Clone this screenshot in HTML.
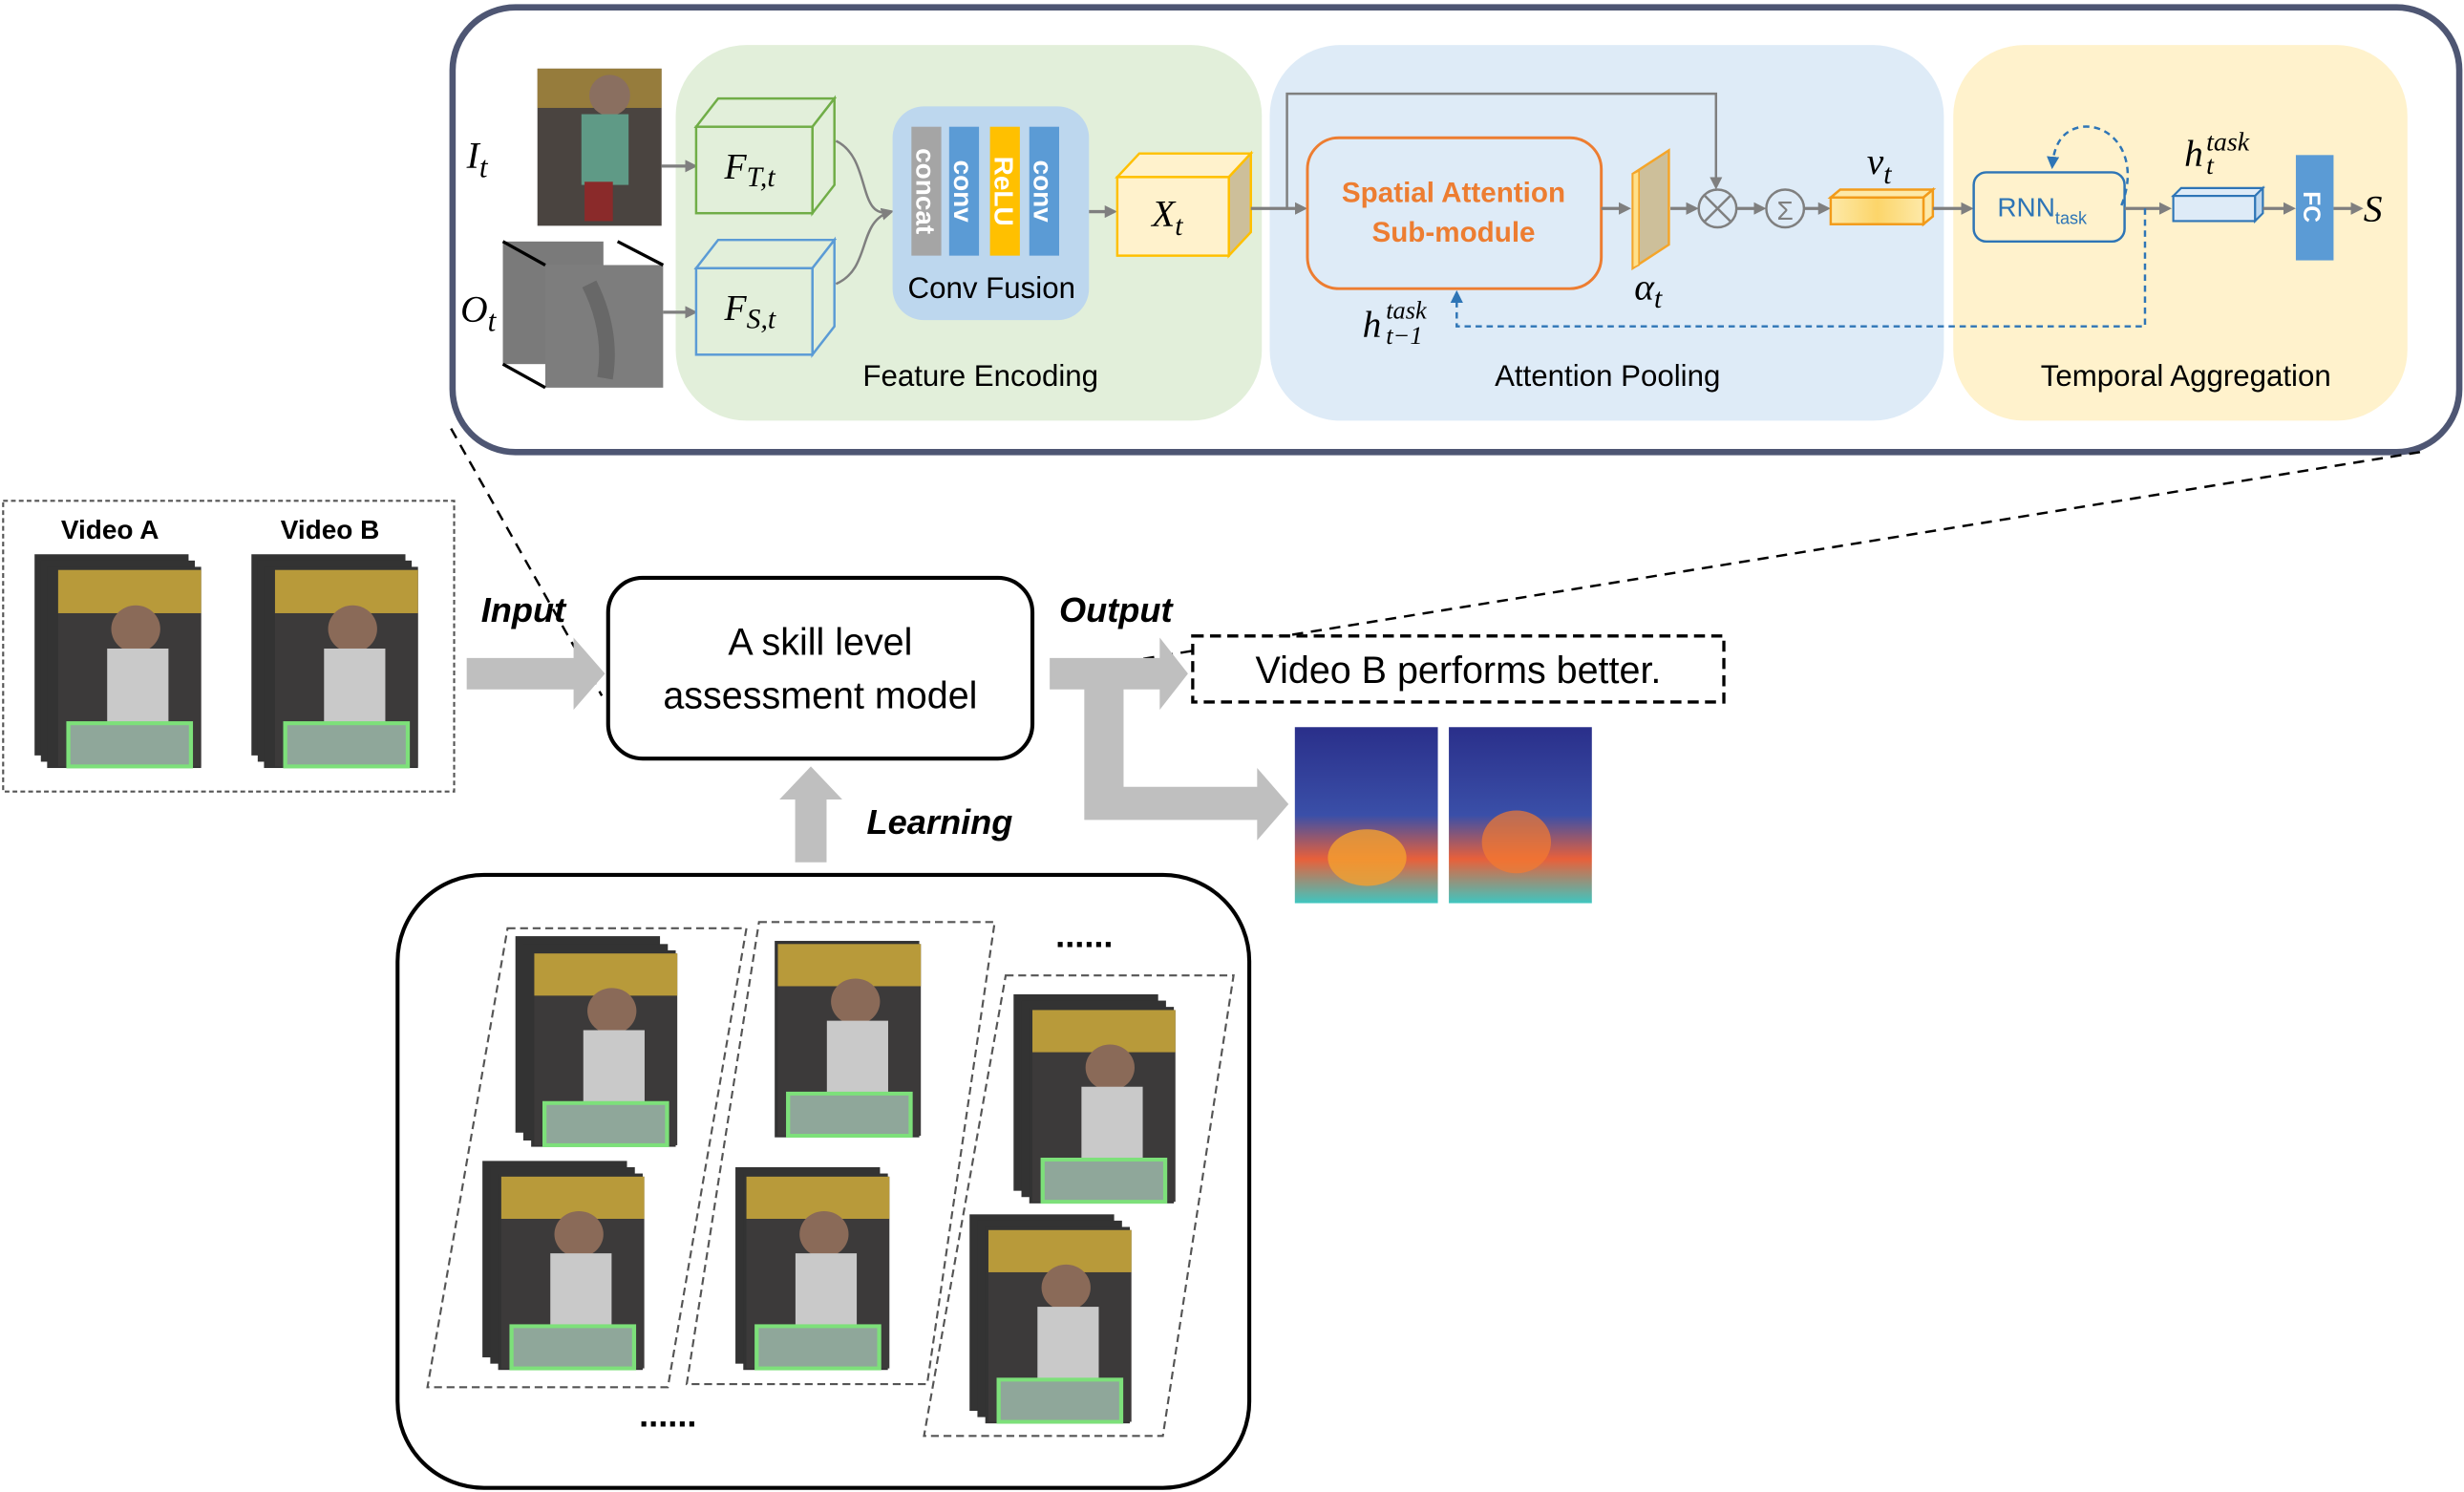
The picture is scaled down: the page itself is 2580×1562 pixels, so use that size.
<!DOCTYPE html>
<html><head><meta charset="utf-8"><style>
html,body{margin:0;padding:0;background:#fff;}
svg{display:block;}
text{font-family:"Liberation Sans",sans-serif;}
.m{font-family:"Liberation Serif",serif;font-style:italic;}
</style></head><body>
<svg width="2580" height="1562" viewBox="0 0 1568 948" xmlns="http://www.w3.org/2000/svg">
<defs>
<marker id="ag" markerWidth="8" markerHeight="8" refX="6" refY="4" orient="auto" markerUnits="userSpaceOnUse"><path d="M0,0 L8,4 L0,8 Z" fill="#7f7f7f"/></marker>
<marker id="ab" markerWidth="8" markerHeight="8" refX="6" refY="4" orient="auto" markerUnits="userSpaceOnUse"><path d="M0,0 L8,4 L0,8 Z" fill="#2e75b6"/></marker>
<linearGradient id="vg" x1="0" y1="0" x2="1" y2="0"><stop offset="0" stop-color="#fde9a8"/><stop offset="0.5" stop-color="#fcd56a"/><stop offset="1" stop-color="#fde9a8"/></linearGradient>
<linearGradient id="heat" x1="0" y1="0" x2="0" y2="1"><stop offset="0" stop-color="#2a2f8a"/><stop offset="0.5" stop-color="#3a4fa8"/><stop offset="0.75" stop-color="#e8603a"/><stop offset="1" stop-color="#3fc6c0"/></linearGradient>
<g id="kid">
<rect width="70" height="100" fill="#3c3a3a"/>
<rect x="0" y="0" width="70" height="22" fill="#b89a3a"/>
<circle cx="38" cy="30" r="12" fill="#8a6a58"/>
<rect x="24" y="40" width="30" height="40" fill="#c9c9c9"/>
<rect x="5" y="78" width="60" height="22" fill="#8fa79a" stroke="#7de07a" stroke-width="2"/>
</g>
</defs>

<rect x="288" y="4" width="1277" height="283" rx="40" fill="#fff" stroke="#4e5673" stroke-width="4"/>
<rect x="430" y="28" width="373" height="239" rx="45" fill="#e2efda"/>
<rect x="808" y="28" width="429" height="239" rx="45" fill="#deebf7"/>
<rect x="1243" y="28" width="289" height="239" rx="45" fill="#fff2cc"/>

<rect x="342" y="43" width="79" height="100" fill="#4a4440"/>
<rect x="342" y="43" width="79" height="25" fill="#c9a23a" opacity="0.6"/>
<circle cx="388" cy="60" r="13" fill="#8a6f60"/>
<rect x="370" y="72" width="30" height="45" fill="#5f9a86"/>
<rect x="372" y="115" width="18" height="25" fill="#8a2a2a"/>
<text x="297" y="106" class="m" font-size="24">I<tspan font-size="19" dy="6">t</tspan></text>
<rect x="320" y="153" width="64" height="78" fill="#7a7a7a"/>
<rect x="347" y="168" width="75" height="78" fill="#7d7d7d"/>
<path d="M375,180 q15,30 10,60" stroke="#5a5a5a" stroke-width="10" fill="none" opacity="0.6"/>
<line x1="320" y1="153" x2="347" y2="168" stroke="#000" stroke-width="2"/>
<line x1="393" y1="153" x2="422" y2="168" stroke="#000" stroke-width="2"/>
<line x1="320" y1="231" x2="347" y2="246" stroke="#000" stroke-width="2"/>
<text x="293" y="204" class="m" font-size="24">O<tspan font-size="19" dy="6">t</tspan></text>
<line x1="421" y1="105" x2="442" y2="105" stroke="#7f7f7f" stroke-width="2" marker-end="url(#ag)"/>
<line x1="422" y1="198" x2="442" y2="198" stroke="#7f7f7f" stroke-width="2" marker-end="url(#ag)"/>

<g stroke="#70ad47" stroke-width="1.5" fill="#e2efda">
<path d="M443,80 L457,62 L531,62 L517,80 Z"/><path d="M517,80 L531,62 L531,117 L517,135 Z"/><rect x="443" y="80" width="74" height="55"/></g>
<text x="461" y="113" class="m" font-size="23">F<tspan font-size="18" dy="5">T,t</tspan></text>
<g stroke="#5b9bd5" stroke-width="1.5" fill="#e2efda">
<path d="M443,170 L457,152 L531,152 L517,170 Z"/><path d="M517,170 L531,152 L531,207 L517,225 Z"/><rect x="443" y="170" width="74" height="55"/></g>
<text x="461" y="203" class="m" font-size="23">F<tspan font-size="18" dy="5">S,t</tspan></text>
<path d="M532,89 C555,100 545,140 567,134" stroke="#7f7f7f" stroke-width="1.5" fill="none" marker-end="url(#ag)"/>
<path d="M532,180 C555,170 545,140 567,134" stroke="#7f7f7f" stroke-width="1.5" fill="none"/>

<rect x="568" y="67" width="125" height="136" rx="20" fill="#bdd7ee"/>
<rect x="580" y="80" width="19" height="82" fill="#a5a5a5"/>
<rect x="604" y="80" width="19" height="82" fill="#5b9bd5"/>
<rect x="630" y="80" width="19" height="82" fill="#ffc000"/>
<rect x="655" y="80" width="19" height="82" fill="#5b9bd5"/>
<g fill="#fff" font-weight="bold" font-size="17">
<text transform="translate(583,121) rotate(90)" text-anchor="middle">concat</text>
<text transform="translate(607,121) rotate(90)" text-anchor="middle">conv</text>
<text transform="translate(633,121) rotate(90)" text-anchor="middle">ReLU</text>
<text transform="translate(658,121) rotate(90)" text-anchor="middle">conv</text>
</g>
<text x="631" y="189" text-anchor="middle" font-size="19">Conv Fusion</text>
<line x1="693" y1="134" x2="709" y2="134" stroke="#7f7f7f" stroke-width="2" marker-end="url(#ag)"/>

<g stroke="#ffc000" stroke-width="1.5">
<path d="M711,112 L725,97 L796,97 L782,112 Z" fill="#fff2cc"/>
<path d="M782,112 L796,97 L796,147 L782,162 Z" fill="#cdbf9a"/>
<rect x="711" y="112" width="71" height="50" fill="#fff2cc"/></g>
<text x="733" y="143" class="m" font-size="24">X<tspan font-size="18" dy="6">t</tspan></text>
<line x1="796" y1="132" x2="830" y2="132" stroke="#7f7f7f" stroke-width="2" marker-end="url(#ag)"/>
<polyline points="819,132 819,59 1092,59 1092,118" stroke="#7f7f7f" stroke-width="1.5" fill="none" marker-end="url(#ag)"/>

<rect x="832" y="87" width="187" height="96" rx="20" fill="#deebf7" stroke="#ed7d31" stroke-width="1.8"/>
<text x="925" y="128" text-anchor="middle" font-size="18" font-weight="bold" fill="#ed7d31">Spatial Attention</text>
<text x="925" y="153" text-anchor="middle" font-size="18" font-weight="bold" fill="#ed7d31">Sub-module</text>
<line x1="1019" y1="132" x2="1036" y2="132" stroke="#7f7f7f" stroke-width="2" marker-end="url(#ag)"/>
<path d="M1039,110 L1062,95 L1062,155 L1039,170 Z" fill="#cdbf9a" stroke="#f4a52a" stroke-width="1.5"/>
<path d="M1039,110 L1043,108 L1043,168 L1039,170 Z" fill="#ffe08a" stroke="#f4a52a" stroke-width="1"/>
<text x="1040" y="190" class="m" font-size="24">α<tspan font-size="18" dy="5">t</tspan></text>
<line x1="1063" y1="132" x2="1079" y2="132" stroke="#7f7f7f" stroke-width="2" marker-end="url(#ag)"/>
<circle cx="1093" cy="132" r="12" fill="none" stroke="#7f7f7f" stroke-width="1.5"/>
<line x1="1085" y1="124" x2="1101" y2="140" stroke="#7f7f7f" stroke-width="1.5"/>
<line x1="1101" y1="124" x2="1085" y2="140" stroke="#7f7f7f" stroke-width="1.5"/>
<line x1="1105" y1="132" x2="1122" y2="132" stroke="#7f7f7f" stroke-width="2" marker-end="url(#ag)"/>
<circle cx="1136" cy="132" r="12" fill="none" stroke="#7f7f7f" stroke-width="1.5"/>
<text x="1136" y="139" text-anchor="middle" font-size="17" fill="#7f7f7f">Σ</text>
<line x1="1148" y1="132" x2="1163" y2="132" stroke="#7f7f7f" stroke-width="2" marker-end="url(#ag)"/>
<path d="M1165,125 L1171,120 L1230,120 L1224,125 Z" fill="#fde9a8" stroke="#f29b1a" stroke-width="1.5"/>
<path d="M1224,125 L1230,120 L1230,137 L1224,142 Z" fill="#fde9a8" stroke="#f29b1a" stroke-width="1.5"/>
<rect x="1165" y="125" width="59" height="17" fill="url(#vg)" stroke="#f29b1a" stroke-width="1.5"/>
<text x="1188" y="110" class="m" font-size="24">v<tspan font-size="18" dy="6">t</tspan></text>
<line x1="1230" y1="132" x2="1254" y2="132" stroke="#7f7f7f" stroke-width="2" marker-end="url(#ag)"/>

<rect x="1256" y="109" width="96" height="44" rx="8" fill="#fff2cc" stroke="#2e75b6" stroke-width="1.5"/>
<text x="1271" y="137" font-size="17" fill="#2e75b6">RNN<tspan font-size="11" dy="5">task</tspan></text>
<path d="M1350,130 C1362,100 1345,78 1325,80 C1312,82 1307,92 1306,105" stroke="#2e75b6" stroke-width="1.5" stroke-dasharray="4,3" fill="none" marker-end="url(#ab)"/>
<line x1="1352" y1="132" x2="1380" y2="132" stroke="#7f7f7f" stroke-width="2" marker-end="url(#ag)"/>
<polyline points="1365,132 1365,207 927,207 927,186" stroke="#2e75b6" stroke-width="1.5" stroke-dasharray="4,3" fill="none" marker-end="url(#ab)"/>
<text x="867" y="214" class="m" font-size="24">h</text>
<text x="882" y="202" class="m" font-size="16">task</text>
<text x="882" y="218" class="m" font-size="16">t−1</text>
<path d="M1383,124 L1388,119 L1440,119 L1435,124 Z" fill="#deebf7" stroke="#2e75b6" stroke-width="1.3"/>
<path d="M1435,124 L1440,119 L1440,135 L1435,140 Z" fill="#bdd7ee" stroke="#2e75b6" stroke-width="1.3"/>
<rect x="1383" y="124" width="52" height="16" fill="#deebf7" stroke="#2e75b6" stroke-width="1.3"/>
<text x="1390" y="105" class="m" font-size="24">h</text>
<text x="1404" y="95" class="m" font-size="17">task</text>
<text x="1404" y="110" class="m" font-size="17">t</text>
<line x1="1440" y1="132" x2="1459" y2="132" stroke="#7f7f7f" stroke-width="2" marker-end="url(#ag)"/>
<rect x="1461" y="98" width="24" height="67" fill="#5b9bd5"/>
<text transform="translate(1466,131) rotate(90)" text-anchor="middle" font-size="15" font-weight="bold" fill="#fff">FC</text>
<line x1="1485" y1="132" x2="1502" y2="132" stroke="#7f7f7f" stroke-width="2" marker-end="url(#ag)"/>
<text x="1504" y="140" class="m" font-size="24">S</text>

<text x="624" y="245" text-anchor="middle" font-size="19">Feature Encoding</text>
<text x="1023" y="245" text-anchor="middle" font-size="19">Attention Pooling</text>
<text x="1391" y="245" text-anchor="middle" font-size="19">Temporal Aggregation</text>

<rect x="2" y="318" width="287" height="185" fill="none" stroke="#555" stroke-width="1.3" stroke-dasharray="3,2"/>
<text x="70" y="342" text-anchor="middle" font-size="17" font-weight="bold">Video A</text>
<text x="210" y="342" text-anchor="middle" font-size="17" font-weight="bold">Video B</text>
<g fill="#333"><rect x="22" y="352" width="98" height="128"/><rect x="26" y="356" width="98" height="128"/><rect x="30" y="360" width="98" height="128"/></g>
<use href="#kid" transform="translate(37,362) scale(1.3,1.25)"/>
<g fill="#333"><rect x="160" y="352" width="98" height="128"/><rect x="164" y="356" width="98" height="128"/><rect x="168" y="360" width="98" height="128"/></g>
<use href="#kid" transform="translate(175,362) scale(1.3,1.25)"/>

<line x1="287" y1="272" x2="383" y2="442" stroke="#000" stroke-width="1.5" stroke-dasharray="7,5"/>
<line x1="1540" y1="287" x2="700" y2="423" stroke="#000" stroke-width="1.5" stroke-dasharray="7,5"/>

<path d="M297,418 L365,418 L365,405 L385,428 L365,451 L365,438 L297,438 Z" fill="#bfbfbf"/>
<text x="333" y="395" text-anchor="middle" font-size="22" font-weight="bold" font-style="italic">Input</text>
<rect x="387" y="367" width="270" height="115" rx="22" fill="#fff" stroke="#000" stroke-width="2.5"/>
<text x="522" y="416" text-anchor="middle" font-size="24">A skill level</text>
<text x="522" y="450" text-anchor="middle" font-size="24">assessment model</text>
<text x="710" y="395" text-anchor="middle" font-size="22" font-weight="bold" font-style="italic">Output</text>
<path d="M668,418 L738,418 L738,405 L756,428 L738,451 L738,438 L715,438 L715,500 L800,500 L800,488 L820,511 L800,534 L800,521 L690,521 L690,438 L668,438 Z" fill="#bfbfbf"/>
<rect x="759" y="404" width="338" height="42" fill="#fff" stroke="#000" stroke-width="2" stroke-dasharray="7,4"/>
<text x="928" y="434" text-anchor="middle" font-size="24">Video B performs better.</text>
<rect x="824" y="462" width="91" height="112" fill="url(#heat)"/>
<rect x="922" y="462" width="91" height="112" fill="url(#heat)"/>
<ellipse cx="870" cy="545" rx="25" ry="18" fill="#f4a030" opacity="0.8"/>
<ellipse cx="965" cy="535" rx="22" ry="20" fill="#f47a30" opacity="0.7"/>
<path d="M506,548 L506,508 L496,508 L516,487 L536,508 L526,508 L526,548 Z" fill="#bfbfbf"/>
<text x="598" y="530" text-anchor="middle" font-size="22" font-weight="bold" font-style="italic">Learning</text>

<rect x="253" y="556" width="542" height="390" rx="55" fill="#fff" stroke="#000" stroke-width="2.5"/>
<g fill="none" stroke="#555" stroke-width="1.3" stroke-dasharray="5,3">
<path d="M323,590 L475,590 L425,882 L272,882 Z"/>
<path d="M483,586 L633,586 L590,880 L437,880 Z"/>
<path d="M640,620 L785,620 L740,913 L588,913 Z"/>
</g>
<g fill="#333">
<rect x="328" y="595" width="92" height="125"/><rect x="333" y="600" width="92" height="125"/><rect x="338" y="604" width="92" height="125"/>
<rect x="307" y="738" width="92" height="125"/><rect x="312" y="742" width="92" height="125"/><rect x="317" y="746" width="92" height="125"/>
<rect x="493" y="598" width="92" height="125"/>
<rect x="468" y="742" width="92" height="125"/><rect x="473" y="746" width="92" height="125"/>
<rect x="645" y="632" width="92" height="125"/><rect x="650" y="636" width="92" height="125"/><rect x="655" y="640" width="92" height="125"/>
<rect x="617" y="772" width="92" height="125"/><rect x="622" y="776" width="92" height="125"/><rect x="627" y="780" width="92" height="125"/>
</g>
<use href="#kid" transform="translate(340,606) scale(1.3,1.22)"/>
<use href="#kid" transform="translate(319,748) scale(1.3,1.22)"/>
<use href="#kid" transform="translate(495,600) scale(1.3,1.22)"/>
<use href="#kid" transform="translate(475,748) scale(1.3,1.22)"/>
<use href="#kid" transform="translate(657,642) scale(1.3,1.22)"/>
<use href="#kid" transform="translate(629,782) scale(1.3,1.22)"/>
<text x="690" y="602" text-anchor="middle" font-size="22" font-weight="bold">......</text>
<text x="425" y="907" text-anchor="middle" font-size="22" font-weight="bold">......</text>
</svg>
</body></html>
